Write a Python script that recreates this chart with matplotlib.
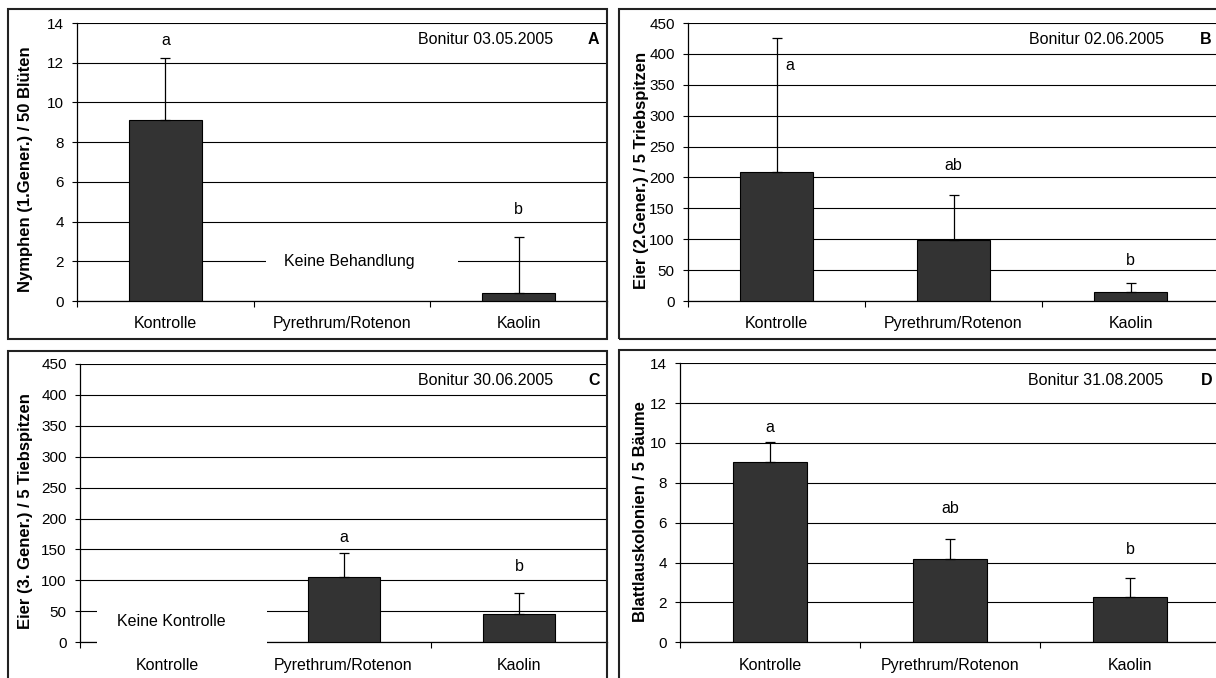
import numpy as np
import matplotlib
matplotlib.use("Agg")
import matplotlib.pyplot as plt
from matplotlib.patches import Rectangle

plt.rcParams['font.family'] = ['Liberation Sans', 'DejaVu Sans']

categories = ['Kontrolle', 'Pyrethrum/Rotenon', 'Kaolin']

# panel A - Nymphen
a_vals = [9.1, np.nan, 0.4]
a_err = [3.15, np.nan, 2.85]
a_letters = ['a', '', 'b']
a_letter_y = [13.1, np.nan, 4.6]

# panel B - Eier 2. Gener.
b_vals = [209, 99, 14]
b_err = [216, 72, 16]
b_letters = ['a', 'ab', 'b']
b_letter_y = [382, 220, 66]

# panel C - Eier 3. Gener.
c_vals = [np.nan, 105, 45]
c_err = [np.nan, 39, 34]
c_letters = ['', 'a', 'b']
c_letter_y = [np.nan, 169, 123]

# panel D - Blattlauskolonien
d_vals = [9.05, 4.2, 2.25]
d_err = [1.0, 1.0, 1.0]
d_letters = ['a', 'ab', 'b']
d_letter_y = [10.8, 6.7, 4.65]

fs = 11.5     # text, x labels
fs_y = 11     # y tick labels
fs_lab = 12   # bold y axis title
fig = plt.figure(figsize=(12.16, 6.78), dpi=100)

# frames around each chart
for (x0, y0, w, h) in [(0.0066, 0.5, 0.4926, 0.486), (0.509, 0.5, 0.5, 0.486),
                       (0.0066, -0.01, 0.4926, 0.492), (0.509, -0.01, 0.5, 0.494)]:
    fig.patches.append(Rectangle((x0, y0), w, h, transform=fig.transFigure,
                                 fill=False, ec='#222222', lw=1.5))


def panel(rect, vals, err, letters, letter_y, ymax, ystep, ylabel, date, tag,
          ylab_xy, letter_dx=(0, 0, 0)):
    ax = fig.add_axes(rect)
    x = np.arange(3)
    ax.set_xlim(-0.5, 2.5)
    ax.set_ylim(0, ymax)
    ax.set_yticks(np.arange(0, ymax + ystep / 2, ystep))
    ax.yaxis.grid(True, color='black', lw=0.8)
    ax.set_axisbelow(True)
    ax.bar(x, vals, width=0.41, color='#333333', edgecolor='black', lw=0.8, zorder=3)
    lo = np.zeros(3)
    ax.errorbar(x, vals, yerr=[lo, err], fmt='none', ecolor='black',
                elinewidth=0.9, capsize=3.5, capthick=0.9, zorder=4)
    for i in range(3):
        if letters[i]:
            ax.text(x[i] + letter_dx[i], letter_y[i], letters[i], ha='center',
                    va='center', fontsize=fs)
    ax.set_xticks([-0.5, 0.5, 1.5, 2.5])
    ax.set_xticklabels([])
    ax.set_xticks(x, minor=True)
    ax.set_xticklabels(categories, minor=True, fontsize=fs)
    ax.tick_params(axis='x', which='minor', length=0, pad=11)
    ax.tick_params(axis='x', which='major', length=4, direction='out')
    ax.tick_params(axis='y', length=3.6, pad=6, labelsize=fs_y)
    for s in ['top', 'right']:
        ax.spines[s].set_visible(False)
    ax.spines['left'].set_lw(0.9)
    ax.spines['bottom'].set_lw(0.9)
    ax.set_ylabel(ylabel, fontsize=fs_lab, fontweight='bold')
    ax.yaxis.set_label_coords(*ylab_xy)
    ax.text(0.77, 0.94, date, transform=ax.transAxes, ha='center', va='center',
            fontsize=fs)
    ax.text(0.975, 0.94, tag, transform=ax.transAxes, ha='center', va='center',
            fontsize=fs, fontweight='bold')
    return ax


axA = panel([0.0633, 0.556, 0.4359, 0.410], a_vals, a_err, a_letters, a_letter_y,
            14, 2, 'Nymphen (1.Gener.) / 50 Blüten', 'Bonitur 03.05.2005', 'A',
            (-0.083, 0.475))
axA.add_patch(Rectangle((0.568, 1.3), 1.09, 1.4, fc='white', ec='none', zorder=2.8))
axA.text(1.04, 2, 'Keine Behandlung', ha='center', va='center', fontsize=fs, zorder=3)

axB = panel([0.5658, 0.556, 0.4367, 0.410], b_vals, b_err, b_letters, b_letter_y,
            450, 50, 'Eier (2.Gener.) / 5 Triebspitzen', 'Bonitur 02.06.2005', 'B',
            (-0.073, 0.469), letter_dx=(0.075, 0, 0))

axC = panel([0.0658, 0.0527, 0.4334, 0.4105], c_vals, c_err, c_letters, c_letter_y,
            450, 50, 'Eier (3. Gener.) / 5 Tiebspitzen', 'Bonitur 30.06.2005', 'C',
            (-0.089, 0.47))
axC.add_patch(Rectangle((-0.403, -14), 0.965, 74, fc='white', ec='none',
                        zorder=2.8, clip_on=False))
axC.text(0.02, 34, 'Keine Kontrolle', ha='center', va='center', fontsize=fs, zorder=3)

axD = panel([0.5592, 0.0527, 0.4441, 0.4115], d_vals, d_err, d_letters, d_letter_y,
            14, 2, 'Blattlauskolonien / 5 Bäume', 'Bonitur 31.08.2005', 'D',
            (-0.059, 0.468))

fig.savefig('out.png', dpi=100)
